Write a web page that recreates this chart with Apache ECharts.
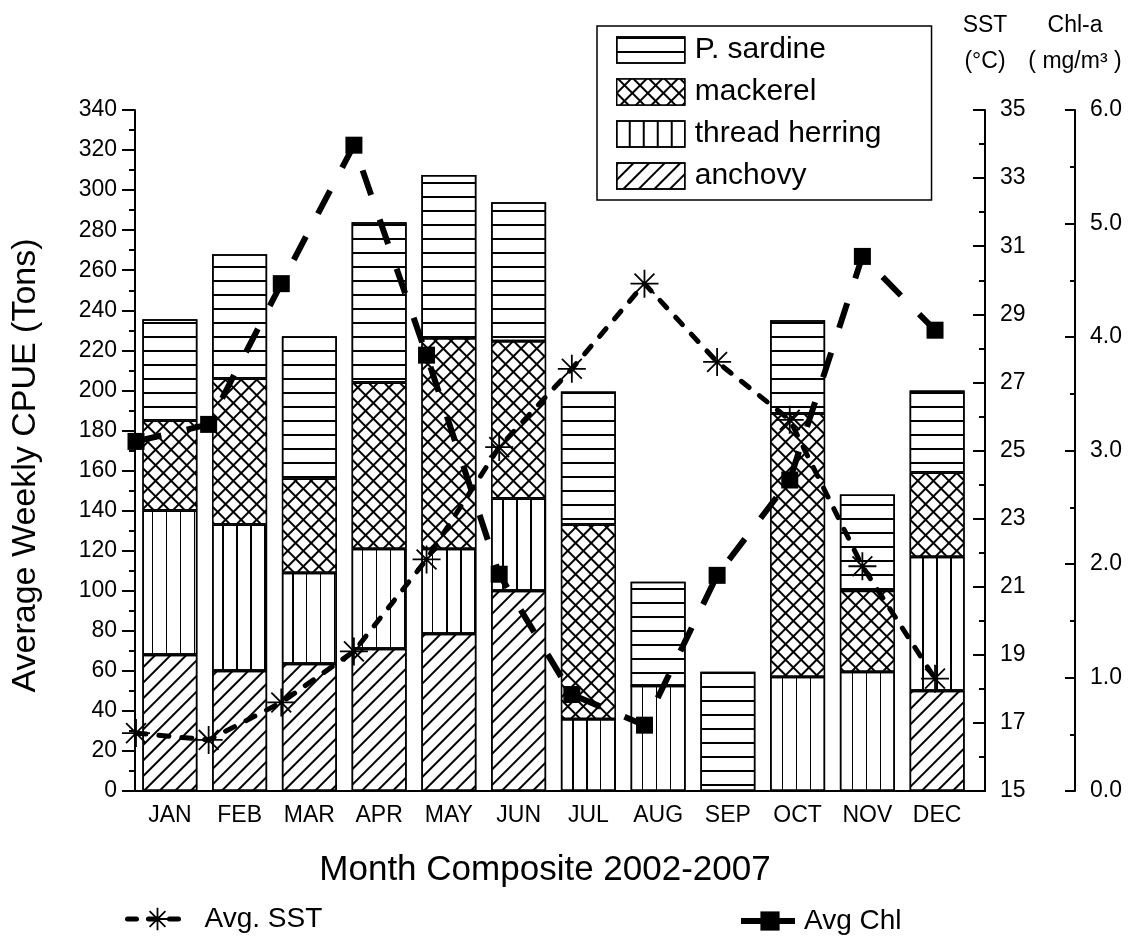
<!DOCTYPE html>
<html><head><meta charset="utf-8">
<script src="https://cdn.jsdelivr.net/npm/echarts@6/dist/echarts.min.js"></script>
<style>html,body{margin:0;padding:0;background:#fff}#c{width:1136px;height:939px}</style>
</head><body><div id="c"></div>
<script>
// ---- data ----
const months = ['JAN','FEB','MAR','APR','MAY','JUN','JUL','AUG','SEP','OCT','NOV','DEC'];
const anchovy       = [68, 60, 63.5, 71, 78.5, 100, 0, 0, 0, 0, 0, 50];
const threadHerring = [72, 73, 45.5, 50, 42.5, 46, 36, 52.5, 0, 57, 59.5, 67];
const mackerel      = [45, 73, 47, 83, 105, 78.5, 97, 0, 0, 131.5, 40.5, 42];
const sardine       = [50.5, 62, 71, 80, 81.5, 69.5, 66.5, 52, 59.5, 46.5, 48, 41];
const avgSST = [16.7, 16.5, 17.6, 19.1, 21.8, 25.1, 27.4, 29.9, 27.6, 25.9, 21.6, 18.3];
const avgChl = [3.08, 3.23, 4.47, 5.69, 3.84, 1.91, 0.85, 0.58, 1.90, 2.74, 4.71, 4.06];
const cpueAxis = {min: 0, max: 340, interval: 20};
const sstAxis = {min: 15, max: 35, interval: 2};
const chlAxis = {min: 0, max: 6, interval: 1};

const FONT = 'Liberation Sans';
const BLACK = '#000';

const decalH = {symbol:'rect', symbolSize:1, color:BLACK, dashArrayX:[1,0], dashArrayY:[1.5,11.5], rotation:0};
const decalV = {symbol:'rect', symbolSize:1, color:BLACK, dashArrayX:[1,0], dashArrayY:[1.5,11.5], rotation:Math.PI/2};
const decalD = {symbol:'rect', symbolSize:1, color:BLACK, dashArrayX:[1,0], dashArrayY:[1.5,8.5], rotation:-Math.PI/4};
const decalX = {symbol:'rect', symbolSize:1, color:'#fff', backgroundColor:BLACK, dashArrayX:[8.5,1.5], dashArrayY:[8.5,1.5], rotation:Math.PI/4};

function barSeries(name, data, decal){
  return {name, type:'bar', stack:'cpue', xAxisIndex:0, yAxisIndex:0, barWidth:55,
    data, itemStyle:{color:'#fff', borderColor:BLACK, borderWidth:1.5, decal},
    emphasis:{disabled:true}, z:2};
}
const starPath = 'path://M0,12L24,12M12,0L12,24M3.5,3.5L20.5,20.5M20.5,3.5L3.5,20.5';

const axisLineStyle = {color:BLACK, width:2};
const option = {
  animation:false,
  textStyle:{fontFamily:FONT, color:BLACK},
  grid:[
    {left:135, right:164, top:110, bottom:148},
    {left:136, right:151, top:110, bottom:148}
  ],
  legend:[
    {data:['P. sardine','mackerel','thread herring','anchovy'], orient:'vertical', left:597, top:26, icon:'rect',
     itemWidth:68, itemHeight:26, itemGap:12, padding:[9,50,9,19], borderColor:BLACK, borderWidth:1.5,
     selectedMode:false, textStyle:{fontSize:30, fontFamily:FONT, color:BLACK, padding:[0,0,0,5]},
     itemStyle:{borderColor:BLACK, borderWidth:1.5}},
    {data:['Avg. SST'], left:120, top:900, itemWidth:60, itemHeight:28, selectedMode:false,
     lineStyle:{width:5, type:[9,12], cap:'round'}, itemStyle:{borderWidth:1.8},
     textStyle:{fontSize:28, fontFamily:FONT, color:BLACK, padding:[0,0,0,12]}},
    {data:['Avg Chl'], left:733, top:902, itemWidth:58, itemHeight:24, selectedMode:false,
     lineStyle:{width:6, type:[22,10]},
     textStyle:{fontSize:28, fontFamily:FONT, color:BLACK}}
  ],
  xAxis:[
    {type:'category', gridIndex:0, data:months, position:'bottom',
     axisLine:{lineStyle:axisLineStyle}, axisTick:{alignWithLabel:true, length:13, lineStyle:{width:2, color:BLACK}},
     axisLabel:{fontSize:23, margin:13, color:BLACK, fontFamily:FONT},
     name:'Month Composite 2002-2007', nameLocation:'middle', nameGap:62,
     nameTextStyle:{fontSize:35, color:BLACK, fontFamily:FONT, padding:[0,17,0,0]},
     splitLine:{show:false}},
    {type:'category', gridIndex:0, data:months, position:'bottom',
     axisLine:{show:false}, axisTick:{length:7, lineStyle:{width:2, color:BLACK}},
     axisLabel:{show:false}, splitLine:{show:false}},
    {type:'value', gridIndex:1, min:1, max:12.688, position:'bottom',
     axisLine:{show:true, onZero:false, lineStyle:axisLineStyle}, axisTick:{show:false},
     axisLabel:{show:false}, splitLine:{show:false}}
  ],
  yAxis:[
    {type:'value', gridIndex:0, position:'left', min:cpueAxis.min, max:cpueAxis.max, interval:cpueAxis.interval,
     axisLine:{show:true, lineStyle:axisLineStyle},
     axisTick:{show:true, length:13, lineStyle:{width:2, color:BLACK}},
     minorTick:{show:true, splitNumber:2, length:6, lineStyle:{width:2, color:BLACK}},
     axisLabel:{fontSize:23, margin:18, color:BLACK, fontFamily:FONT},
     splitLine:{show:false},
     name:'Average Weekly CPUE (Tons)', nameLocation:'middle', nameGap:92, nameRotate:90,
     nameTextStyle:{fontSize:34, color:BLACK, fontFamily:FONT, padding:[0,30,0,0]}},
    {type:'value', gridIndex:1, position:'right', offset:0, min:sstAxis.min, max:sstAxis.max, interval:sstAxis.interval,
     axisLine:{show:true, lineStyle:axisLineStyle},
     axisTick:{show:true, inside:true, length:12, lineStyle:{width:2, color:BLACK}},
     minorTick:{show:true, splitNumber:2, length:6, lineStyle:{width:2, color:BLACK}},
     axisLabel:{fontSize:23, margin:15, color:BLACK, fontFamily:FONT},
     splitLine:{show:false},
     name:'SST\n(°C)', nameLocation:'end', nameGap:30,
     nameTextStyle:{fontSize:23, lineHeight:36, color:BLACK, fontFamily:FONT, align:'center'}},
    {type:'value', gridIndex:1, position:'right', offset:90, min:chlAxis.min, max:chlAxis.max, interval:chlAxis.interval,
     axisLine:{show:true, lineStyle:axisLineStyle},
     axisTick:{show:true, inside:true, length:10, lineStyle:{width:2, color:BLACK}},
     minorTick:{show:true, splitNumber:2, length:5, lineStyle:{width:2, color:BLACK}},
     axisLabel:{fontSize:23, margin:15, color:BLACK, fontFamily:FONT, formatter:v=>v.toFixed(1)},
     splitLine:{show:false},
     name:'Chl-a\n( mg/m³ )', nameLocation:'end', nameGap:30,
     nameTextStyle:{fontSize:23, lineHeight:36, color:BLACK, fontFamily:FONT, align:'center'}}
  ],
  series:[
    barSeries('anchovy', anchovy, decalD),
    barSeries('thread herring', threadHerring, decalV),
    barSeries('mackerel', mackerel, decalX),
    barSeries('P. sardine', sardine, decalH),
    {name:'Avg. SST', type:'line', xAxisIndex:2, yAxisIndex:1,
     data:avgSST.map((v,i)=>[i+1, v]), symbol:starPath, symbolSize:28, clip:false,
     itemStyle:{color:'none', borderColor:BLACK, borderWidth:1.8},
     lineStyle:{color:BLACK, width:5, type:[10,13], cap:'round'}, emphasis:{disabled:true}, z:5},
    {name:'Avg Chl', type:'line', xAxisIndex:2, yAxisIndex:2,
     data:avgChl.map((v,i)=>[i+1, v]), symbol:'rect', symbolSize:17, clip:false,
     itemStyle:{color:BLACK},
     lineStyle:{color:BLACK, width:6, type:[26,26]}, emphasis:{disabled:true}, z:5}
  ]
};
const chart = echarts.init(document.getElementById('c'), null, {renderer:'canvas'});
chart.setOption(option);
</script></body></html>
